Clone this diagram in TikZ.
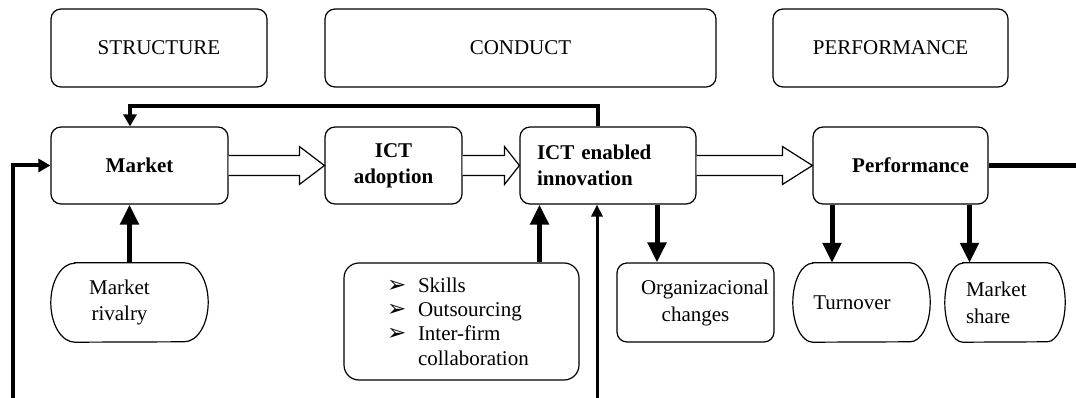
\documentclass[tikz,border=0pt]{standalone}
\usepackage{fontspec}
\setmainfont{Liberation Serif}
\newfontfamily\dejavu{DejaVu Sans}
\usetikzlibrary{arrows.meta}
\newcommand\stadiumline[2]{%
  \draw[boxline] ([xshift=#2]#1.north west) -- ([xshift=-#2]#1.north east)
    arc[start angle=90,end angle=-90,x radius=#2,y radius=39.5pt]
    -- ([xshift=#2]#1.south west)
    arc[start angle=270,end angle=90,x radius=#2,y radius=39.5pt] -- cycle;}
\newcommand\hollowarrow[3]{%
  \draw[hollow] ([yshift=10pt]#1.east) -- ([xshift=-#3,yshift=10pt]#2.west)
    -- ([xshift=-#3,yshift=19pt]#2.west) -- (#2.west)
    -- ([xshift=-#3,yshift=-19pt]#2.west) -- ([xshift=-#3,yshift=-10pt]#2.west)
    -- ([yshift=-10pt]#1.east);}
\newcommand\bul{\makebox[31pt][l]{\dejavu\fontsize{23}{23}\selectfont ➢}}
\begin{document}
\begin{tikzpicture}[x=1pt,y=1pt,
  boxline/.style={line width=1.2pt},
  basebox/.style={draw, line width=1.2pt, rounded corners=10pt, inner sep=0pt, align=center,
    font=\fontsize{21}{25}\selectfont},
  topbox/.style={basebox, minimum height=78pt},
  rowbox/.style={basebox, minimum height=77pt, font=\fontsize{21}{26}\selectfont\bfseries},
  softbox/.style={inner sep=0pt, minimum height=79pt, align=center, font=\fontsize{21}{26}\selectfont},
  hollow/.style={line width=1.2pt, fill=white, line join=miter},
  thickarrow/.style={line width=5pt, -{Triangle[width=18pt,length=20pt]}},
  fbline/.style={line width=4pt, line join=miter, -{Triangle[width=13pt,length=12pt]}},
  thinup/.style={line width=3pt, -{Triangle[width=11pt,length=12pt]}}]
\useasboundingbox (0,0) rectangle (1076,-398);
% header boxes
\node[topbox, minimum width=216pt] (tstruct) at (159,-48) {STRUCTURE};
\node[topbox, minimum width=391pt] (tcond) at (520.5,-48) {CONDUCT};
\node[topbox, minimum width=235pt] (tperf) at (890.5,-48) {PERFORMANCE};
% main row
\node[rowbox, minimum width=177pt] (mkt) at (139.5,-165.5) {Market};
\node[rowbox, minimum width=137pt] (adopt) at (393.5,-165.5) {ICT\\adoption};
\node[rowbox, minimum width=176pt, text width=142pt, align=left] (inno) at (608,-165.5) {ICT enabled\\innovation};
\node[rowbox, minimum width=175pt] (perf) at (900.5,-165.5) {\hspace*{20pt}Performance};
% lower row
\node[softbox, minimum width=157pt] (rival) at (129.5,-302.5) {\hspace*{-20pt}Market\\\hspace*{-20pt}rivalry};
\stadiumline{rival}{24pt}
\node[basebox, rounded corners=15pt, minimum width=235pt, minimum height=117pt,
  text width=149pt, align=left, font=\fontsize{21}{24.4}\selectfont] (skills) at (461.5,-321.5)
  {\bul Skills\\\bul Outsourcing\\\bul Inter-firm\\\hspace*{31pt}collaboration};
\node[basebox, minimum width=157pt, minimum height=79pt, font=\fontsize{21}{27}\selectfont] (org) at (695.5,-302.5) {\hspace*{19pt}Organizacional\\changes};
\node[softbox, minimum width=137pt] (turn) at (861.5,-302.5) {\hspace*{-19pt}Turnover};
\stadiumline{turn}{20pt}
\node[softbox, minimum width=120pt, text width=78pt, align=left, font=\fontsize{21}{27}\selectfont] (share) at (1005,-302.5) {Market\\share};
\stadiumline{share}{18pt}
% hollow arrows
\hollowarrow{mkt}{adopt}{25pt}
\hollowarrow{adopt}{inno}{15pt}
\hollowarrow{inno}{perf}{30pt}
% thick arrows
\draw[thickarrow] (rival.north) -- (rival.north |- mkt.south);
\coordinate (s1) at ([xshift=78pt]skills.north);
\draw[thickarrow] (s1) -- (s1 |- inno.south);
\coordinate (d1) at ([xshift=49pt]inno.south);
\draw[thickarrow] (d1) -- (d1 |- org.north);
\coordinate (d2) at ([xshift=-68.5pt]perf.south);
\draw[thickarrow] (d2) -- (d2 |- turn.north);
\coordinate (d3) at ([xshift=69pt]perf.south);
\draw[thickarrow] (d3) -- (d3 |- share.north);
% feedback lines
\coordinate (fb1) at ([xshift=-10pt]inno.north);
\coordinate (fb2) at ([xshift=-9.5pt]mkt.north);
\draw[fbline] (fb1) -- ++(0,20) -| (fb2);
\coordinate (lstart) at (13,-398);
\draw[fbline] (lstart) |- (mkt.west);
\coordinate (bstart) at (597,-398);
\draw[thinup] (bstart) -- (bstart |- inno.south);
\coordinate (rend) at (1076,-165.5);
\draw[line width=4.5pt] (perf.east) -- (rend);
\end{tikzpicture}
\end{document}
